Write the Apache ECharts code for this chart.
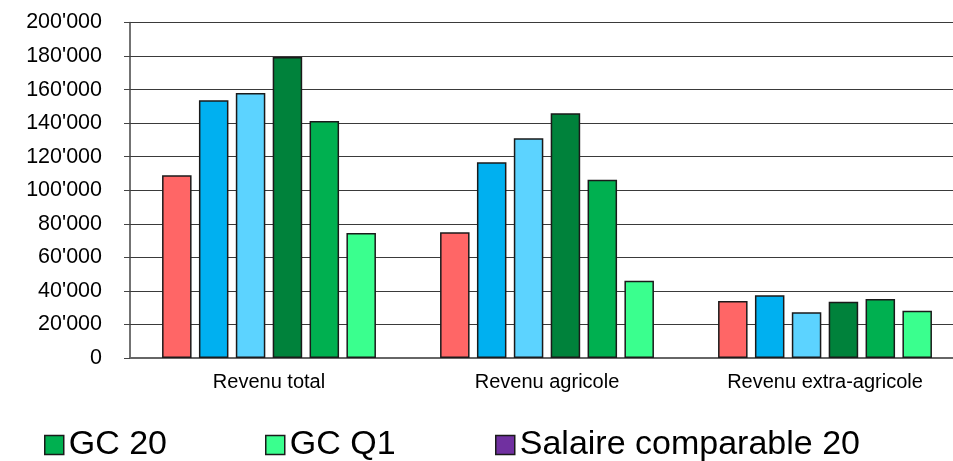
<!DOCTYPE html>
<html>
<head>
<meta charset="utf-8">
<script src="https://cdn.jsdelivr.net/npm/echarts@6/dist/echarts.min.js"></script>
<style>
html,body{margin:0;padding:0;background:#fff;overflow:hidden;width:953px;height:461px;}
#chart{width:964px;height:461px;}
</style>
</head>
<body>
<div id="chart"></div>
<script>
const categories = ['Revenu total', 'Revenu agricole', 'Revenu extra-agricole'];
const s1 = [109000, 75000, 34000];
const s2 = [153600, 116700, 37400];
const s3 = [158000, 131000, 27200];
const gc20 = [179400, 145900, 33500];
const gcq1 = [141300, 106300, 35200];
const gcq1b = [74500, 46100, 28200];
const salaire = [null, null, null];
const legendNames = ['GC 20', 'GC Q1', 'Salaire comparable 20'];
const yTicks = [0, 20000, 40000, 60000, 80000, 100000, 120000, 140000, 160000, 180000, 200000];

const colors = ['#FF6666', '#00B0F0', '#5CD3FF', '#00823B', '#00B050', '#3AFF8E', '#7030A0'];
const names = ['Série 1', 'Série 2', 'Série 3', 'GC 20 ', 'GC 20', 'GC Q1', 'Salaire comparable 20'];
const datas = [s1, s2, s3, gc20, gcq1, gcq1b, salaire];

const series = datas.map((d, i) => ({
  type: 'bar',
  name: names[i],
  data: d,
  stack: i >= 5 ? 'last' : undefined,
  barWidth: 29.5,
  barGap: '25%',
  itemStyle: { color: colors[i], borderColor: '#1a1a1a', borderWidth: 1.5 }
}));

function fmt(v) {
  return String(v).replace(/\B(?=(\d{3})+(?!\d))/g, "'");
}

const legendBase = {
  orient: 'horizontal',
  top: 423,
  itemWidth: 19,
  itemHeight: 19,
  itemGap: 10,
  icon: 'rect',
  textStyle: { fontSize: 34, color: '#000', fontFamily: 'Liberation Sans, Arial, sans-serif' },
  itemStyle: { borderColor: '#1a1a1a', borderWidth: 1.5 },
  selectedMode: false
};

const chart = echarts.init(document.getElementById('chart'), null, { renderer: 'canvas' });
chart.setOption({
  animation: false,
  textStyle: { fontFamily: 'Liberation Sans, Arial, sans-serif' },
  grid: { left: 130, right: 0, top: 22.5, height: 335.5 },
  legend: [
    Object.assign({}, legendBase, { left: 39, data: [legendNames[0]] }),
    Object.assign({}, legendBase, { left: 260, data: [legendNames[1]] }),
    Object.assign({}, legendBase, { left: 490, data: [legendNames[2]] })
  ],
  xAxis: {
    type: 'category',
    data: categories,
    axisLine: { lineStyle: { color: '#666', width: 2 } },
    axisTick: { show: false },
    axisLabel: { fontSize: 20, color: '#000', margin: 14 }
  },
  yAxis: {
    type: 'value',
    min: yTicks[0],
    max: yTicks[yTicks.length - 1],
    interval: 20000,
    axisLine: { show: true, lineStyle: { color: '#444', width: 1.5 } },
    axisTick: { show: true, length: 6, lineStyle: { color: '#444' } },
    axisLabel: { fontSize: 21.5, color: '#000', margin: 28, formatter: fmt },
    splitLine: { lineStyle: { color: '#3a3a3a', width: 1 } }
  },
  series: series
});
</script>
</body>
</html>
